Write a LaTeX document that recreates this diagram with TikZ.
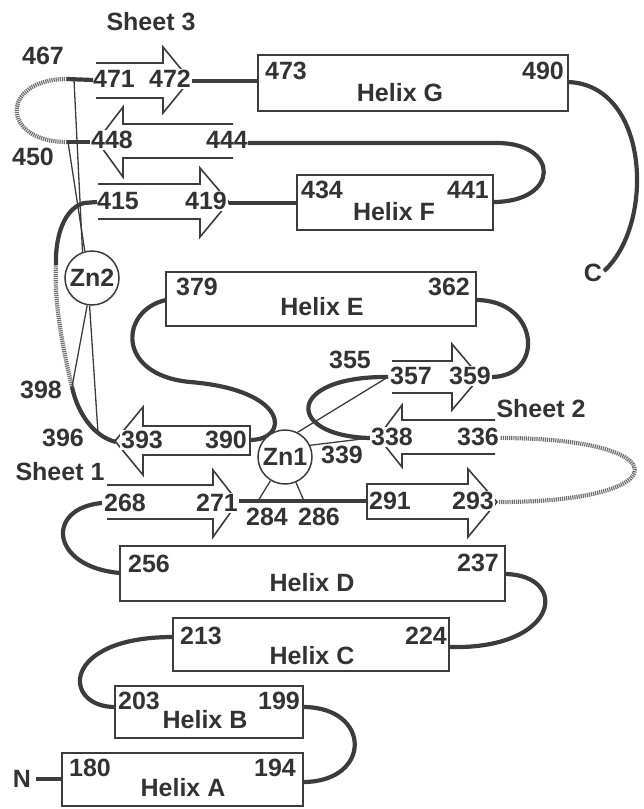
\documentclass[tikz,border=0pt]{standalone}
\usepackage{fontspec}
\setmainfont{Liberation Sans}
\definecolor{ink}{HTML}{3c3c3c}
\definecolor{txt}{HTML}{333333}
\definecolor{hatch}{HTML}{6e6e6e}
\tikzset{
  lab/.style={inner sep=0pt, text=txt, font=\fontsize{25}{25}\selectfont\bfseries},
  labw/.style={lab, fill=white, inner sep=1pt},
  helix/.style={draw=ink, line width=1.5pt, rectangle, inner sep=0pt},
  strand/.style={draw=ink, line width=1.6pt, line join=miter},
  loopline/.style={draw=ink, line width=4.2pt},
  disorder/.style={draw=hatch, line width=4.2pt, dash pattern=on 1.2pt off 0.9pt},
  ligand/.style={draw=ink, line width=1.3pt},
  zn/.style={circle, draw=ink, fill=white, line width=1.5pt, minimum size=54pt, inner sep=0pt, text=txt, font=\fontsize{25}{25}\selectfont\bfseries}
}
\begin{document}
\begin{tikzpicture}[x=1pt,y=-1pt]
\useasboundingbox (0,0) rectangle (643,809);

% helices
\node[helix, minimum width=310pt, minimum height=56pt] (hG) at (413,83) {};
\node[helix, minimum width=196pt, minimum height=55pt] (hF) at (395,202.5) {};
\node[helix, minimum width=310pt, minimum height=54pt] (hE) at (321,299) {};
\node[helix, minimum width=385pt, minimum height=55pt] (hD) at (312.5,573.5) {};
\node[helix, minimum width=276pt, minimum height=53pt] (hC) at (311,644.5) {};
\node[helix, minimum width=188pt, minimum height=52pt] (hB) at (209,712) {};
\node[helix, minimum width=241pt, minimum height=53pt] (hA) at (182.5,779.5) {};

% attachment points
\coordinate (pN) at (36,779);
\coordinate (a180) at (62,779);
\coordinate (a194) at (303,782);
\coordinate (a199) at (303,707);
\coordinate (a203) at (115,707);
\coordinate (a213) at (173,637);
\coordinate (a224) at (449,647);
\coordinate (a237) at (505,574);
\coordinate (a256) at (120,573);
\coordinate (a268) at (102,503);
\coordinate (a271) at (238,501);
\coordinate (a291) at (367,501);
\coordinate (a293) at (499,502);
\coordinate (a336) at (500,438);
\coordinate (a338) at (370,438);
\coordinate (a357) at (388,377);
\coordinate (a359) at (491,377);
\coordinate (a362) at (476,300);
\coordinate (a379) at (166,300);
\coordinate (m1) at (190,382);
\coordinate (a390) at (250,440);
\coordinate (a393) at (116,442);
\coordinate (a396) at (98,433);
\coordinate (a398) at (72,387);
\coordinate (d1) at (56,265);
\coordinate (a415b) at (84,203);
\coordinate (a415) at (97,202);
\coordinate (a419) at (229,203);
\coordinate (a434) at (297,203);
\coordinate (a441) at (493,202);
\coordinate (a444) at (248,143);
\coordinate (a444r) at (497,143);
\coordinate (a448) at (90,142);
\coordinate (a450) at (67,142);
\coordinate (a467) at (67,79);
\coordinate (a471) at (93,80);
\coordinate (a472) at (191,81);
\coordinate (a473) at (258,81);
\coordinate (a490) at (568,82);
\coordinate (pC) at (604,271);
\coordinate (l467) at (74,80);
\coordinate (l450) at (68,142);
\coordinate (l284) at (258,501);
\coordinate (l286) at (304,501);

% loops
\draw[loopline] (pN) -- (a180);
\draw[loopline] (a194) .. controls (372,782) and (372,707) .. (a199);
\draw[loopline] (a203) .. controls (62,707) and (60,637) .. (a213);
\draw[loopline] (a224) .. controls (560,650) and (570,575) .. (a237);
\draw[loopline] (a256) .. controls (50,567) and (45,508) .. (a268);
\draw[loopline] (a271) -- (a291);
\draw[disorder] (a293) .. controls (680,502) and (680,438) .. (a336);
\draw[loopline] (a338) .. controls (285,436) and (285,376) .. (a357);
\draw[loopline] (a359) .. controls (545,377) and (540,300) .. (a362);
\draw[loopline] (a379) .. controls (120,310) and (115,375) .. (m1) .. controls (290,390) and (290,440) .. (a390);
\draw[loopline] (a393) .. controls (95,437) and (78,415) .. (a398);
\draw[disorder] (a398) .. controls (62,345) and (54,300) .. (d1);
\draw[loopline] (d1) .. controls (55,235) and (65,208) .. (a415b) -- (a415);
\draw[loopline] (a419) -- (a434);
\draw[loopline] (a444) -- (a444r) .. controls (560,143) and (560,202) .. (a441);
\draw[loopline] (a448) -- (a450);
\draw[disorder] (a450) .. controls (0,142) and (0,79) .. (a467);
\draw[loopline] (a467) -- (a471);
\draw[loopline] (a472) -- (a473);
\draw[loopline] (a490) .. controls (650,85) and (655,225) .. (pC);

% strands
\draw[strand] (96,63) -- (163,63) -- (163,47) -- (190,80) -- (163,113) -- (163,98) -- (96,98);
\draw[strand] (233,124) -- (123,124) -- (123,107) -- (97,141) -- (123,177) -- (123,158) -- (233,158);
\draw[strand] (98,184) -- (200,184) -- (200,168) -- (229,202) -- (200,237) -- (200,219) -- (98,219);
\draw[strand] (250,426) -- (143,426) -- (143,407) -- (115,441) -- (143,475) -- (143,455) -- (250,455) -- cycle;
\draw[strand] (107,485) -- (213,485) -- (213,470) -- (238,502) -- (213,537) -- (213,519) -- (107,519);
\draw[strand] (367,484) -- (468,484) -- (468,469) -- (497,502) -- (468,537) -- (468,519) -- (367,519) -- cycle;
\draw[strand] (392,361) -- (452,361) -- (452,344) -- (480,377) -- (452,410) -- (452,393) -- (392,393);
\draw[strand] (495,420) -- (402,420) -- (402,405) -- (378,437) -- (402,467) -- (402,454) -- (495,454);

% zinc sites
\node[zn] (zn2) at (92,278) {Zn2};
\node[zn] (zn1) at (285,457) {Zn1};
\draw[ligand] (zn2.110) -- (l467);
\draw[ligand] (zn2.105) -- (l450);
\draw[ligand] (zn2.-100) -- (a398);
\draw[ligand] (zn2.-95) -- (a396);
\draw[ligand] (zn1) -- (l284);
\draw[ligand] (zn1) -- (l286);
\draw[ligand] (zn1.63) -- (a357);
\draw[ligand] (zn1.25) -- (a338);

% labels
\node[lab] (tS3) at (151,22) {Sheet 3};
\node[lab] (t467) at (43,56) {467};
\node[lab] (t450) at (33,157) {450};
\node[lab] (t471) at (114,79) {471};
\node[labw] (t472) at (170,79) {472};
\node[labw] (t448) at (112,140) {448};
\node[lab] (t444) at (227,140) {444};
\node[lab] (t415) at (118,201) {415};
\node[labw] (t419) at (206,201) {419};
\node[lab] (t473) at (286,71) {473};
\node[lab] (t490) at (543,71) {490};
\node[lab] (tHG) at (400,93) {Helix G};
\node[lab] (t434) at (322,190) {434};
\node[lab] (t441) at (468,190) {441};
\node[lab] (tHF) at (394,212) {Helix F};
\node[lab] (tC) at (593,273) {C};
\node[lab] (t379) at (197,287) {379};
\node[lab] (t362) at (449,287) {362};
\node[lab] (tHE) at (322,307) {Helix E};
\node[lab] (t355) at (350,360) {355};
\node[labw] (t357) at (411,376) {357};
\node[labw] (t359) at (470,376) {359};
\node[lab] (tS2) at (541,409) {Sheet 2};
\node[labw] (t338) at (392,437) {338};
\node[lab] (t336) at (478,437) {336};
\node[lab] (t339) at (342,455) {339};
\node[lab] (t398) at (41,390) {398};
\node[lab] (t396) at (63,438) {396};
\node[labw] (t393) at (142,440) {393};
\node[lab] (t390) at (226,440) {390};
\node[lab] (tS1) at (60,472) {Sheet 1};
\node[lab] (t268) at (125,503) {268};
\node[labw] (t271) at (217,503) {271};
\node[lab] (t284) at (267,517) {284};
\node[lab] (t286) at (319,517) {286};
\node[lab] (t291) at (390,501) {291};
\node[labw] (t293) at (473,501) {293};
\node[lab] (t256) at (149,564) {256};
\node[lab] (t237) at (478,563) {237};
\node[lab] (tHD) at (312,583) {Helix D};
\node[lab] (t213) at (201,636) {213};
\node[lab] (t224) at (426,636) {224};
\node[lab] (tHC) at (312,656) {Helix C};
\node[lab] (t203) at (139,701) {203};
\node[lab] (t199) at (279,701) {199};
\node[lab] (tHB) at (205,720) {Helix B};
\node[lab] (t180) at (90,768) {180};
\node[lab] (t194) at (275,768) {194};
\node[lab] (tHA) at (183,788) {Helix A};
\node[lab] (tN) at (22,779) {N};
\end{tikzpicture}
\end{document}
